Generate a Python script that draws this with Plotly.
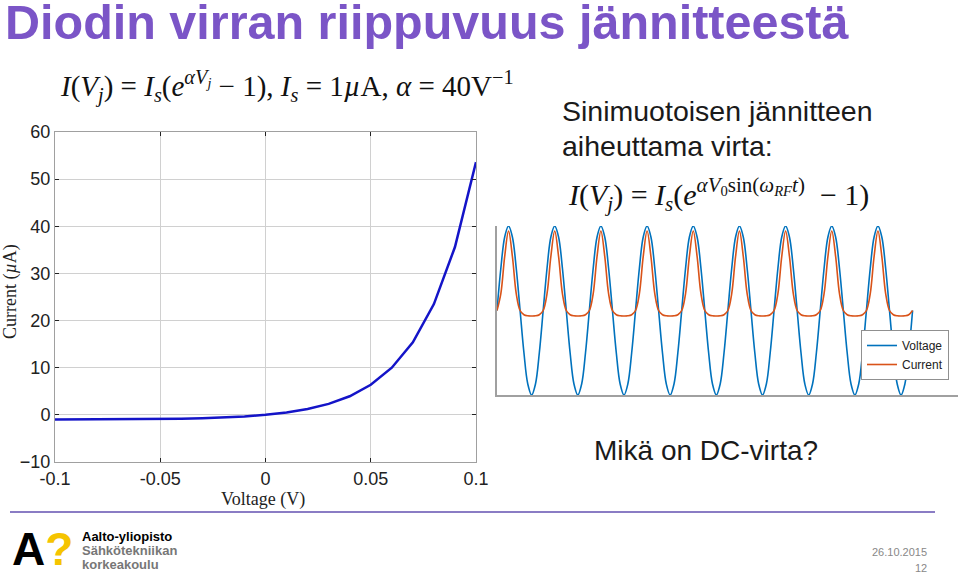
import plotly.graph_objects as go

# diode I-V curve (µA)
voltage_v = [-0.1, -0.09, -0.08, -0.07, -0.06, -0.05, -0.04, -0.03, -0.02, -0.01,
             0.0, 0.01, 0.02, 0.03, 0.04, 0.05, 0.06, 0.07, 0.08, 0.09, 0.1]
current_ua = [-0.98, -0.97, -0.96, -0.94, -0.91, -0.86, -0.80, -0.70, -0.55, -0.33,
              0.0, 0.49, 1.23, 2.32, 3.95, 6.39, 10.0, 15.4, 23.5, 35.6, 53.6]
x_ticks = [-0.1, -0.05, 0, 0.05, 0.1]
x_ticktext = ["-0.1", "-0.05", "0", "0.05", "0.1"]
y_ticks = [-10, 0, 10, 20, 30, 40, 50, 60]

# right plot: one RF cycle sampled every 30 degrees (normalised units)
cycle_voltage = [0.0, 0.5, 0.87, 1.0, 0.87, 0.5, 0.0, -0.5, -0.87, -1.0, -0.87, -0.5]
cycle_current = [0.0, 0.2, 0.64, 0.94, 0.64, 0.2, 0.0, -0.05, -0.063, -0.065, -0.063, -0.05]
n_cycles = 9  # the picture shows nine identical cycles

rf_voltage = cycle_voltage * n_cycles + [0.0]
rf_current = cycle_current * n_cycles + [0.0]
rf_t = list(range(len(rf_voltage)))

W, H = 960, 576
PURPLE = "#7b55c7"
SANS = "Liberation Sans, Arial"
SERIF = "Liberation Serif, Times New Roman, serif"


def px(x, y):
    return x / W, 1 - y / H


fig = go.Figure()

fig.add_trace(go.Scatter(
    x=voltage_v, y=current_ua, mode="lines",
    line=dict(color="#1414c8", width=2.5), showlegend=False,
    xaxis="x", yaxis="y"
))

fig.add_trace(go.Scatter(
    x=rf_t, y=rf_voltage, mode="lines", name="Voltage",
    line=dict(color="#0072bd", width=1.6, shape="spline"),
    xaxis="x2", yaxis="y2"
))
fig.add_trace(go.Scatter(
    x=rf_t, y=rf_current, mode="lines", name="Current",
    line=dict(color="#d95319", width=1.6, shape="spline"),
    xaxis="x2", yaxis="y2"
))

axis_font = dict(family=SANS, size=18, color="#222")

fig.update_layout(
    width=W, height=H,
    margin=dict(l=0, r=0, t=0, b=0),
    paper_bgcolor="white", plot_bgcolor="white",
    xaxis=dict(
        domain=[55 / W, 476 / W], range=[-0.1, 0.1],
        tickvals=x_ticks, ticktext=x_ticktext,
        showgrid=True, gridcolor="#d0d0d0", gridwidth=1,
        showline=True, linecolor="#a0a0a0", mirror="ticks",
        ticks="inside", ticklen=4, tickcolor="#222",
        tickfont=axis_font, zeroline=False, automargin=False,
        anchor="y",
    ),
    yaxis=dict(
        domain=[1 - 462 / H, 1 - 132 / H], range=[-10, 60],
        tickvals=y_ticks,
        showgrid=True, gridcolor="#d0d0d0", gridwidth=1,
        showline=True, linecolor="#a0a0a0", mirror="ticks",
        ticks="inside", ticklen=4, tickcolor="#222",
        tickfont=axis_font, zeroline=False, automargin=False,
        anchor="x",
    ),
    xaxis2=dict(
        domain=[497 / W, 958 / W], range=[0, 119.8],
        showgrid=False, zeroline=False, showticklabels=False, ticks="",
        showline=True, linecolor="#a0a0a0", linewidth=1.5, automargin=False,
        anchor="y2",
    ),
    yaxis2=dict(
        domain=[1 - 395 / H, 1 - 226 / H], range=[-1, 1.0],
        showgrid=False, zeroline=False, showticklabels=False, ticks="",
        showline=True, linecolor="#a0a0a0", linewidth=1.5, automargin=False,
        anchor="x2",
    ),
    legend=dict(
        x=949 / W, y=1 - 355 / H, xanchor="right", yanchor="middle",
        bgcolor="white", bordercolor="#909090", borderwidth=1,
        font=dict(family=SANS, size=12, color="#222"),
        tracegroupgap=0, itemwidth=30,
    ),
)

annotations = []


def text(x, y, s, size, color="#1a1a1a", family=SANS, xanchor="left", yanchor="middle", angle=0):
    ax, ay = px(x, y)
    annotations.append(dict(
        x=ax, y=ay, xref="paper", yref="paper", text=s, showarrow=False,
        xanchor=xanchor, yanchor=yanchor, textangle=angle,
        font=dict(family=family, size=size, color=color),
    ))


text(3, 22, "<b>Diodin virran riippuvuus jännitteestä</b>", 48.5, color=PURPLE)

# axis titles of the left plot
text(263, 499, "Voltage (V)", 18, family=SERIF, color="#222", xanchor="center")
text(10, 292, "Current (<i>µ</i>A)", 18, family=SERIF, color="#222", xanchor="center", angle=-90)

text(58, 86,
     "<i>I</i>(<i>V<sub>j</sub></i>) = <i>I<sub>s</sub></i>(<i>e</i><sup><i>αV<sub>j</sub></i></sup> − 1), "
     "<i>I<sub>s</sub></i> = 1<i>µ</i>A, <i>α</i> = 40V<sup>−1</sup>",
     29, family=SERIF, color="#111")
text(560, 111, "Sinimuotoisen jännitteen", 28.5)
text(560, 146, "aiheuttama virta:", 28.5)
text(566, 194,
     "<i>I</i>(<i>V<sub>j</sub></i>) = <i>I<sub>s</sub></i>(<i>e</i><sup><i>αV</i><sub>0</sub>sin(<i>ω<sub>RF</sub>t</i>)</sup>  − 1)",
     30, family=SERIF, color="#111")
text(592, 450, "Mikä on DC-virta?", 28)

# footer
text(10, 549, "<b>A<span style='color:#f5c400'>?</span></b>", 46, color="#000")
text(80, 536, "<b>Aalto-yliopisto</b>", 13, color="#000")
text(80, 550, "<b>Sähkötekniikan</b>", 13, color="#777")
text(80, 564, "<b>korkeakoulu</b>", 13, color="#777")
text(929, 552, "26.10.2015", 11, color="#888", xanchor="right")
text(929, 568, "12", 11, color="#888", xanchor="right")

fig.update_layout(annotations=annotations)

x0, y0 = px(10, 512)
x1, _ = px(935, 512)
fig.add_shape(type="line", xref="paper", yref="paper", x0=x0, x1=x1, y0=y0, y1=y0,
              line=dict(color="#8a7cc4", width=2))

# page has a default 8px body margin; drop it so the slide fills the window
fig.write_html("out.html", config={"displayModeBar": False},
               post_script="document.body.style.margin='0';")
